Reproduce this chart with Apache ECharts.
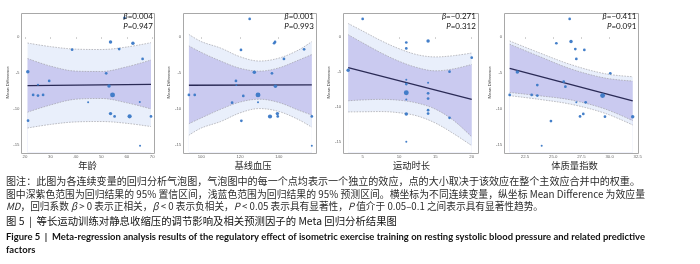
<!DOCTYPE html>
<html><head><meta charset="utf-8">
<script src="https://cdn.jsdelivr.net/npm/echarts@6/dist/echarts.min.js"></script>
<style>html,body{margin:0;padding:0;background:#fff}#c{width:700px;height:264px}</style>
</head><body><div id="c"></div>
<script>
// ---------------- DATA ----------------
const xTitles = ['年龄', '基线血压', '运动时长', '体质量指数'];
const betas = ['0.004', '0.001', '−0.271', '−0.411'];
const pvals = ['0.947', '0.993', '0.312', '0.091'];
const yTicks = ['0', '-5', '-10', '-15'];

// Panel 1: age
const ageTicks = ['20', '30', '40', '50', '60', '70'];
const ageX = [21.1, 21.2, 23.2, 25.1, 25.1, 27.1, 29.5, 38.5, 44.8, 51.9, 53.0, 53.6, 53.6, 54.4, 55.2, 57.0, 59.1, 61.1, 62.4, 65.1, 65.2, 66.2, 69.5];
const ageY = [-4.78, -11.58, -8.0, -8.1, -6.6, -8.0, -6.07, -1.72, -9.03, -5.0, -6.76, -0.65, -10.6, -8.0, -11.0, -1.63, 2.68, -10.98, -0.83, -9.0, -15.05, -3.0, -11.0];
const ageW = [3, 2, 2, 2, 1, 2, 2, 2, 1, 2, 3, 3, 3, 5, 2, 2, 2, 4, 3, 1, 1, 2, 2];
const ageBandX = [21, 30, 40, 50, 60, 69.5];
const ageCiUp = [-2.95, -4.0, -4.7, -4.75, -4.1, -3.15];
const ageCiLo = [-10.4, -9.4, -8.6, -8.5, -9.1, -9.95];
const agePiUp = [-0.8, -1.3, -1.65, -1.7, -1.35, -0.75];
const agePiLo = [-12.6, -12.1, -11.75, -11.7, -11.95, -12.4];
const ageRegX = [21, 69.5];
const ageRegY = [-6.72, -6.53];

// Panel 2: baseline blood pressure
const bpTicks = ['100', '120', '140'];
const bpX = [93.6, 96.6, 115.9, 117.9, 118.1, 120.5, 120.7, 121.7, 125.0, 127.4, 129.3, 129.3, 135.5, 136.5, 137.6, 138.1, 138.3, 139.3, 139.5, 142.7, 153.1, 157.1, 157.1];
const bpY = [-8.0, -8.0, -9.08, -6.07, -6.63, -1.76, -11.6, -8.15, 2.54, -4.86, -8.0, -9.03, -11.0, -5.0, -0.83, -0.65, -6.8, -10.6, -11.0, -3.0, -1.67, -11.0, -15.05];
const bpW = [2, 2, 2, 2, 1, 2, 2, 2, 2, 3, 5, 1, 4, 2, 2, 2, 3, 3, 2, 2, 2, 2, 1];
const bpBandX = [93.6, 100, 110, 120, 130, 140, 150, 157.1];
const bpCiUp = [-1.2, -2.1, -3.3, -4.3, -4.7, -4.25, -3.2, -2.4];
const bpCiLo = [-12.0, -11.2, -10.0, -9.0, -8.6, -9.05, -10.1, -10.8];
const bpPiUp = [0.4, -0.6, -1.5, -2.7, -3.3, -2.9, -1.8, -0.6];
const bpPiLo = [-13.6, -12.6, -11.7, -10.5, -9.9, -10.3, -11.4, -12.5];
const bpRegX = [93.6, 157.1];
const bpRegY = [-6.66, -6.6];

// Panel 3: exercise duration
const durTicks = ['5', '10', '15', '20'];
const durX = [3.0, 5.0, 11.0, 11.0, 11.0, 11.0, 11.0, 11.0, 11.0, 11.0, 14.0, 14.0, 14.0, 14.0, 14.0, 14.0, 16.95, 16.95, 20.0];
const durY = [-4.75, 2.63, -0.75, -1.6, -6.1, -6.72, -7.96, -8.95, -11.02, -15.0, -0.53, -6.52, -8.05, -8.8, -10.48, -10.95, -4.94, -11.57, -2.93];
const durW = [3, 2, 2, 2, 1, 2, 5, 1, 3, 1, 3, 1, 2, 2, 2, 2, 2, 2, 2];
const durBandX = [3, 5, 7.5, 10, 12.5, 15, 17.5, 20];
const durCiUp = [0.38, -0.8, -2.22, -3.44, -4.35, -4.82, -4.54, -3.9];
const durCiLo = [-9.12, -9.0, -8.92, -9.04, -9.45, -10.32, -11.94, -14.3];
const durPiUp = [1.98, 0.9, -0.47, -1.64, -2.5, -2.82, -2.64, -2.26];
const durPiLo = [-10.72, -10.7, -10.67, -10.84, -11.3, -12.32, -13.84, -15.56];
const durRegX = [3, 20];
const durRegY = [-4.37, -8.91];

// Panel 4: BMI
const bmiTicks = ['22.5', '25.0', '27.5', '30.0', '32.5'];
const bmiX = [21.14, 21.82, 23.09, 23.59, 23.59, 23.98, 24.8, 25.28, 25.93, 26.08, 26.46, 26.58, 26.96, 27.05, 27.05, 27.38, 27.67, 27.76, 27.88, 29.38, 29.59, 30.06, 32.05];
const bmiY = [-8.01, -4.82, -8.0, -6.63, -8.1, -15.05, -11.63, -0.83, -6.16, -6.86, 2.54, -0.6, -1.63, -3.0, -9.03, -11.0, -10.65, -1.76, -9.03, -8.1, -11.03, -5.0, -11.03];
const bmiW = [2, 3, 2, 2, 2, 1, 2, 2, 2, 2, 2, 3, 2, 2, 1, 2, 2, 2, 2, 5, 2, 2, 3];
const bmiBandX = [21.14, 23.7, 26.6, 29.6, 32.05];
const bmiCiUp = [-0.96, -2.61, -4.41, -5.66, -6.08];
const bmiCiLo = [-7.66, -8.11, -8.71, -9.96, -11.58];
const bmiPiUp = [-0.51, -2.11, -3.81, -5.06, -5.48];
const bmiPiLo = [-8.11, -8.61, -9.31, -10.56, -12.18];
const bmiRegX = [21.14, 32.05];
const bmiRegY = [-4.31, -8.83];

// Caption text
const capLine1 = '图注：此图为各连续变量的回归分析气泡图，气泡图中的每一个点均表示一个独立的效应，点的大小取决于该效应在整个主效应合并中的权重。';
const capLine2 = '图中深紫色范围为回归结果的 95% 置信区间，浅蓝色范围为回归结果的 95% 预测区间。横坐标为不同连续变量，纵坐标 Mean Difference 为效应量';
const capLine3 = '{i|MD}，回归系数 {i|β} > 0 表示正相关，{i|β} < 0 表示负相关，{i|P} < 0.05 表示具有显著性，{i|P} 值介于 0.05–0.1 之间表示具有显著性趋势。';
const capLine4 = '图 5  |  等长运动训练对静息收缩压的调节影响及相关预测因子的 Meta 回归分析结果图';
const capLine5 = 'Figure 5  |  Meta-regression analysis results of the regulatory effect of isometric exercise training on resting systolic blood pressure and related predictive';
const capLine6 = 'factors';

// ---------------- BUILD ----------------
const panels = [
  {x: ageX, y: ageY, w: ageW, bx: ageBandX, ciU: ageCiUp, ciL: ageCiLo, piU: agePiUp, piL: agePiLo, rx: ageRegX, ry: ageRegY, ticks: ageTicks},
  {x: bpX, y: bpY, w: bpW, bx: bpBandX, ciU: bpCiUp, ciL: bpCiLo, piU: bpPiUp, piL: bpPiLo, rx: bpRegX, ry: bpRegY, ticks: bpTicks},
  {x: durX, y: durY, w: durW, bx: durBandX, ciU: durCiUp, ciL: durCiLo, piU: durPiUp, piL: durPiLo, rx: durRegX, ry: durRegY, ticks: durTicks},
  {x: bmiX, y: bmiY, w: bmiW, bx: bmiBandX, ciU: bmiCiUp, ciL: bmiCiLo, piU: bmiPiUp, piL: bmiPiLo, rx: bmiRegX, ry: bmiRegY, ticks: bmiTicks}
];
const TOP = 12.5, H = 140;
const layout = [
  {left: 21, width: 133.3, xmin: 18.43, xmax: 70.8, ymin: -16.0, ymax: 3.44, titleX: 87.5},
  {left: 182.7, width: 132.6, xmin: 90.39, xmax: 158.9, ymin: -16.0, ymax: 3.44, titleX: 253},
  {left: 342.7, width: 134.6, xmin: 2.25, xmax: 20.77, ymin: -16.55, ymax: 3.56, titleX: 411.5},
  {left: 503.7, width: 134.3, xmin: 20.61, xmax: 32.52, ymin: -16.0, ymax: 3.44, titleX: 574.5}
];
const LIGHT = '#e9effb', PURPLE = '#cacaf0', DASH = '#a2a2a8', PT = '#3a78c6', REG = '#2a2a55';
const tickFont = 'Liberation Sans';

const grids = [], xAxes = [], yAxes = [], series = [], graphics = [];
panels.forEach((p, i) => {
  const L = layout[i];
  grids.push({left: L.left, top: TOP, width: L.width, height: H, show: false, containLabel: false});
  xAxes.push({
    gridIndex: i, type: 'value', min: L.xmin, max: L.xmax,
    axisLine: {show: false},
    axisTick: {show: true, length: 1.5, lineStyle: {color: '#999', width: 0.6}, customValues: p.ticks.map(Number)},
    axisLabel: {customValues: p.ticks.map(Number), formatter: v => p.ticks[p.ticks.map(Number).indexOf(v)] || '', fontSize: 4.3, color: '#666', margin: 2, fontFamily: tickFont},
    splitLine: {show: false}
  });
  yAxes.push({
    gridIndex: i, type: 'value', min: L.ymin, max: L.ymax,
    name: 'Mean Difference', nameLocation: 'middle', nameGap: 7, nameRotate: 90,
    nameTextStyle: {fontSize: 4.4, color: '#444', fontFamily: tickFont},
    axisLine: {show: false},
    axisTick: {show: false},
    axisLabel: {customValues: yTicks.map(Number), formatter: v => String(v), fontSize: 4.3, color: '#666', margin: 1.5, fontFamily: tickFont},
    splitLine: {show: false}
  });
  const band = (vals, color) => ({
    type: 'line', xAxisIndex: i, yAxisIndex: i, silent: true, animation: false,
    data: p.bx.map((x, k) => [x, vals[k]]), smooth: 0.35, symbol: 'none', showSymbol: false,
    lineStyle: {color: DASH, width: 0.7, type: [1.6, 1.2]},
    areaStyle: {color: color, opacity: 1, origin: 'start'}, z: 2
  });
  series.push(band(p.piU, LIGHT));
  series.push(band(p.ciU, PURPLE));
  series.push(band(p.ciL, LIGHT));
  series.push(band(p.piL, '#ffffff'));
  series.push({
    type: 'line', xAxisIndex: i, yAxisIndex: i, silent: true, animation: false,
    data: p.rx.map((x, k) => [x, p.ry[k]]), symbol: 'none', showSymbol: false,
    lineStyle: {color: REG, width: 1.3}, z: 3
  });
  series.push({
    type: 'scatter', xAxisIndex: i, yAxisIndex: i, silent: true, animation: false,
    data: p.x.map((x, k) => [x, p.y[k], p.w[k]]),
    symbolSize: v => 1.3 + 0.72 * v[2],
    itemStyle: {color: PT, opacity: 0.95}, z: 4
  });
  // frame
  graphics.push({type: 'rect', z: 50, silent: true,
    shape: {x: Math.round(L.left) + 0.5, y: Math.round(TOP) + 0.5, width: Math.round(L.width), height: H},
    style: {fill: 'none', stroke: '#a8a8a8', lineWidth: 1}});
  // stats
  const rx = L.left + L.width - 1.5;
  const statRich = {i: {fontStyle: 'italic', fontSize: 8, fontFamily: 'Lato', fill: '#111'}};
  graphics.push({type: 'text', z: 60, silent: true, x: rx, y: 16.5,
    style: {text: '{i|β}=' + betas[i], align: 'right', verticalAlign: 'middle', fill: '#111',
      font: '8px Lato', rich: statRich}});
  graphics.push({type: 'text', z: 60, silent: true, x: rx, y: 26.7,
    style: {text: '{i|P}=' + pvals[i], align: 'right', verticalAlign: 'middle', fill: '#111',
      font: '8px Lato', rich: statRich}});
  // x title
  graphics.push({type: 'text', z: 60, silent: true, x: L.titleX, y: 165,
    style: {text: xTitles[i], align: 'center', verticalAlign: 'middle', fill: '#2a2a2a',
      font: '9.3px "Noto Sans CJK SC"'}});
});

// caption lines, scaled horizontally to the reference widths
const cv = document.createElement('canvas').getContext('2d');
function plain(s) { return s.replace(/\{i\|([^}]*)\}/g, '$1'); }
function fit(s, font, target) { cv.font = font; return target / cv.measureText(plain(s)).width; }
const cnFont = '10px "Noto Sans CJK SC"';
const enFont = 'bold 10px Lato';
const caps = [
  {t: capLine1, y: 181.5, w: 634, font: cnFont, fill: '#2b2b2b'},
  {t: capLine2, y: 194, w: 639, font: cnFont, fill: '#2b2b2b'},
  {t: capLine3, y: 206.5, w: 537, font: cnFont, fill: '#2b2b2b'},
  {t: capLine4, y: 221.5, w: 391, font: cnFont, fill: '#111'},
  {t: capLine5, y: 236.5, w: 639, font: enFont, fill: '#111'}
];
let enScale = 1;
caps.forEach((c, k) => {
  const s = fit(c.t, c.font, c.w);
  if (k === 4) enScale = s;
  graphics.push({type: 'text', z: 60, silent: true, x: 6, y: c.y, scaleX: s,
    style: {text: c.t, align: 'left', verticalAlign: 'middle', fill: c.fill, font: c.font,
      rich: {i: {fontStyle: 'italic', fontSize: 10, fontFamily: 'Noto Sans CJK SC', fill: c.fill}}}});
});
graphics.push({type: 'text', z: 60, silent: true, x: 6, y: 250, scaleX: enScale,
  style: {text: capLine6, align: 'left', verticalAlign: 'middle', fill: '#111', font: enFont}});

const chart = echarts.init(document.getElementById('c'), null, {renderer: 'canvas', width: 700, height: 264});
chart.setOption({
  animation: false,
  backgroundColor: '#ffffff',
  grid: grids, xAxis: xAxes, yAxis: yAxes, series: series,
  graphic: {elements: graphics}
});
</script></body></html>
